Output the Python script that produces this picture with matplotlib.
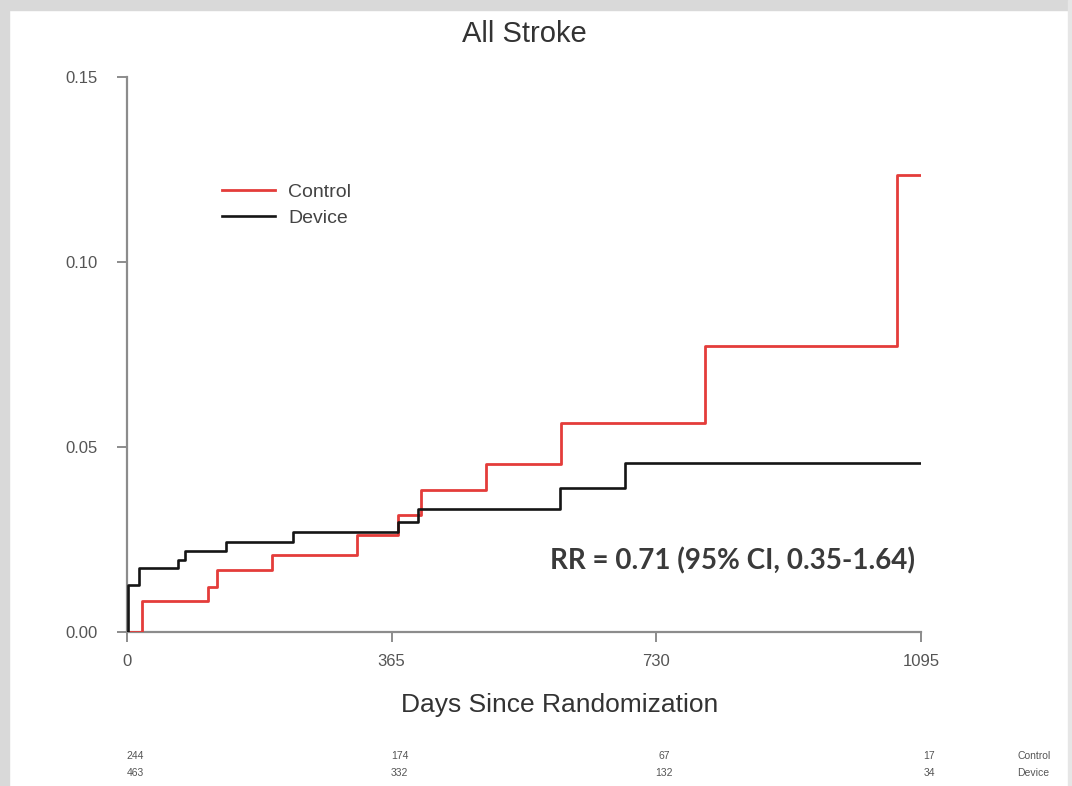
import matplotlib.pyplot as plt
from matplotlib.patches import Rectangle
from matplotlib.transforms import blended_transform_factory, ScaledTranslation

plt.rcParams['font.family'] = ['Liberation Sans', 'DejaVu Sans']

# cumulative incidence, step times in days
control_days = [0, 20, 112, 124, 200, 317, 374, 406, 495, 599, 797, 1062, 1095]
control_risk = [0, 0.0083, 0.0122, 0.0168, 0.0208, 0.0262, 0.0316, 0.0384,
                0.0454, 0.0565, 0.0773, 0.1235, 0.1235]
device_days = [0, 2, 16, 71, 80, 137, 229, 374, 402, 597, 687, 1095]
device_risk = [0, 0.0127, 0.0172, 0.0195, 0.022, 0.0244, 0.027, 0.0298,
               0.0332, 0.039, 0.0457, 0.0457]

# numbers at risk
risk_days = [0, 365, 730, 1095]
control_at_risk = [244, 174, 67, 17]
device_at_risk = [463, 332, 132, 34]

x_ticks = [0, 365, 730, 1095]
y_ticks = [0.0, 0.05, 0.10, 0.15]

W, H = 1072, 786
fig = plt.figure(figsize=(W / 100, H / 100), dpi=100)
fig.patch.set_facecolor('white')

# grey frame around the slide
frame = '#d9d9d9'
fig.add_artist(Rectangle((0, 1 - 10 / H), 1, 10 / H, transform=fig.transFigure, color=frame, zorder=0))
fig.add_artist(Rectangle((0, 0), 9 / W, 1, transform=fig.transFigure, color=frame, zorder=0))
fig.add_artist(Rectangle((1 - 4 / W, 0), 4 / W, 1, transform=fig.transFigure, color='#e6e6e6', zorder=5))

ax = fig.add_axes([127 / W, 1 - 632 / H, 794 / W, 555 / H])
ax.step(control_days, control_risk, where='post', color='#e43c3a', lw=2.0, label='Control', zorder=3)
ax.step(device_days, device_risk, where='post', color='#151515', lw=1.9, label='Device', zorder=4)

ax.set_xlim(0, 1095)
ax.set_ylim(0, 0.15)
ax.set_xticks(x_ticks)
ax.set_yticks(y_ticks)
ax.set_yticklabels([f'{v:.2f}' for v in y_ticks])
for s in ['top', 'right']:
    ax.spines[s].set_visible(False)
for s in ['left', 'bottom']:
    ax.spines[s].set_color('#8c8c8c')
    ax.spines[s].set_linewidth(1.6)
ax.tick_params(axis='both', colors='#8c8c8c', width=1.4, length=7, labelcolor='#555555', labelsize=12)
ax.tick_params(axis='x', pad=9)
ax.tick_params(axis='y', pad=14)

ax.set_title('All Stroke', fontsize=21, color='#333333', pad=25)
ax.set_xlabel('Days Since Randomization', fontsize=19, color='#333333')
ax.xaxis.set_label_coords(0.545, -0.11)

leg = ax.legend(loc='upper left', bbox_to_anchor=(0.098, 0.84), frameon=False,
                fontsize=14, handlelength=2.7, handletextpad=0.7, labelspacing=0.45,
                labelcolor='#444444')

ax.text(0.993, 0.128, 'RR = 0.71 (95% CI, 0.35-1.64)', transform=ax.transAxes,
        ha='right', va='center', fontsize=20, fontweight='bold', color='#3a3a3a',
        family=['Lato', 'DejaVu Sans'])

# numbers-at-risk table under the axis
tr = blended_transform_factory(ax.transData, fig.transFigure) + ScaledTranslation(8 / 100, 0, fig.dpi_scale_trans)
for d, c, v in zip(risk_days, control_at_risk, device_at_risk):
    ax.text(d, 1 - 756 / H, str(c), transform=tr, ha='center', va='center', fontsize=7.5, color='#555555')
    ax.text(d, 1 - 773 / H, str(v), transform=tr, ha='center', va='center', fontsize=7.5, color='#555555')
fig.text(1017 / W, 1 - 756 / H, 'Control', ha='left', va='center', fontsize=7.5, color='#555555')
fig.text(1017 / W, 1 - 773 / H, 'Device', ha='left', va='center', fontsize=7.5, color='#555555')

fig.savefig('out.png', dpi=100)
